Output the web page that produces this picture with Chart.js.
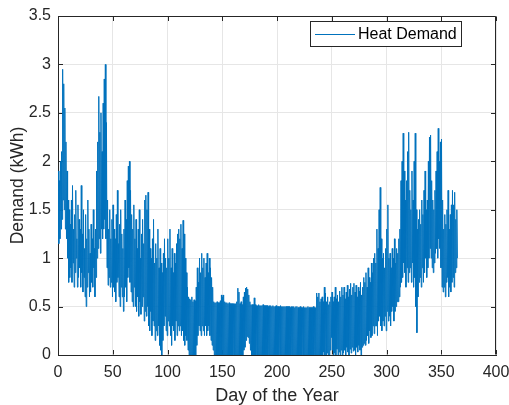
<!DOCTYPE html>
<html lang="en">
<head>
<meta charset="UTF-8">
<title>Heat Demand</title>
<style>
  html, body { margin: 0; padding: 0; background: #fff; }
</style>
</head>
<body>
<div style="width: 509px; height: 405px;">
  <canvas id="grafico" width="509" height="405"></canvas>
</div>
<script src="https://cdn.jsdelivr.net/npm/chart.js"></script>
<script>
// daily upper and lower envelope of the hourly heat demand (kWh), day 0..364
const dayPeak = [
  1.9, 1.8, 2.0, 2.1, 2.95, 2.8, 2.55, 2.2, 1.9, 1.6,
  1.5, 1.35, 1.6, 1.75, 1.3, 1.45, 1.7, 1.2, 1.55, 1.4,
  1.3, 1.75, 1.25, 1.5, 1.1, 1.45, 1.2, 1.6, 1.3, 1.05,
  1.35, 1.2, 1.5, 1.1, 1.3, 1.9, 2.2, 2.67, 2.3, 2.5,
  2.1, 2.6, 2.85, 3.0, 2.4, 1.6, 1.3, 1.5, 1.2, 1.4,
  1.55, 1.3, 1.2, 1.45, 1.7, 1.15, 1.35, 1.5, 1.25, 1.1,
  1.3, 1.6, 1.4, 1.8, 1.95, 2.0, 1.7, 1.45, 1.3, 1.55,
  1.2, 1.4, 1.1, 1.3, 1.5, 1.0, 1.25, 1.4, 1.15, 1.6,
  1.65, 1.5, 1.68, 1.3, 1.1, 1.0, 1.2, 1.4, 0.95, 1.15,
  1.0, 1.3, 0.9, 1.1, 0.95, 0.85, 1.05, 1.2, 1.0, 0.9,
  1.2, 1.0, 1.3, 0.9, 1.1, 0.85, 1.05, 0.95, 1.15, 1.25,
  1.3, 1.2, 1.35, 1.1, 1.39, 1.25, 1.0, 0.85, 0.7, 0.6,
  0.58, 0.57, 0.6, 0.55, 0.57, 0.56, 0.7, 0.9, 0.75, 1.0,
  0.85, 1.05, 0.9, 1.0, 0.8, 0.95, 1.05, 0.85, 1.0, 0.9,
  0.8, 0.7, 0.55, 0.54, 0.54, 0.55, 0.54, 0.54, 0.56, 0.62,
  0.6, 0.62, 0.55, 0.54, 0.54, 0.53, 0.54, 0.53, 0.53, 0.53,
  0.53, 0.53, 0.53, 0.55, 0.69, 0.65, 0.53, 0.55, 0.52, 0.6,
  0.65, 0.69, 0.7, 0.68, 0.62, 0.55, 0.52, 0.52, 0.52, 0.59,
  0.52, 0.51, 0.51, 0.52, 0.51, 0.51, 0.51, 0.52, 0.51, 0.51,
  0.51, 0.51, 0.5, 0.51, 0.51, 0.5, 0.51, 0.5, 0.5, 0.51,
  0.5, 0.5, 0.5, 0.51, 0.5, 0.5, 0.5, 0.5, 0.5, 0.5,
  0.5, 0.5, 0.49, 0.5, 0.5, 0.5, 0.49, 0.5, 0.5, 0.49,
  0.49, 0.5, 0.49, 0.49, 0.5, 0.49, 0.49, 0.49, 0.5, 0.49,
  0.49, 0.49, 0.49, 0.5, 0.49, 0.49, 0.64, 0.6, 0.64, 0.55,
  0.58, 0.6, 0.55, 0.7, 0.64, 0.55, 0.6, 0.52, 0.55, 0.6,
  0.65, 0.55, 0.6, 0.7, 0.58, 0.62, 0.55, 0.66, 0.6, 0.7,
  0.62, 0.7, 0.58, 0.65, 0.72, 0.6, 0.68, 0.74, 0.62, 0.7,
  0.74, 0.65, 0.72, 0.6, 0.7, 0.66, 0.75, 0.62, 0.7, 0.8,
  0.75, 0.85, 0.7, 0.9, 0.8, 0.75, 0.95, 0.85, 1.0, 1.05,
  0.95, 1.3, 1.1, 1.5, 1.73, 1.2, 1.0, 1.05, 0.9, 1.1,
  1.3, 1.55, 1.0, 1.05, 0.9, 1.1, 1.0, 1.2, 0.95, 1.1,
  1.05, 1.2, 1.3, 1.8, 2.0, 2.29, 1.9, 1.6, 1.8, 2.1,
  2.3, 1.7, 1.5, 1.9, 1.6, 2.0, 2.29, 1.5, 1.3, 1.4,
  1.5, 1.35, 1.6, 1.45, 1.7, 1.9, 1.5, 1.6, 2.0, 2.25,
  2.27, 1.8, 1.6, 1.5, 1.7, 1.9, 2.1, 2.34, 2.0, 2.2,
  2.23, 1.6, 1.3, 1.45, 1.35, 1.5, 1.7, 1.3, 1.45, 1.55,
  1.7, 1.55, 1.68, 1.4, 1.5
];
const dayBase = [
  1.15, 1.2, 1.3, 1.4, 1.6, 1.5, 1.3, 1.2, 1.0, 0.75,
  0.8, 0.9, 0.75, 0.95, 0.7, 0.85, 1.0, 0.7, 0.8, 0.9,
  0.7, 0.85, 0.65, 0.8, 0.6, 0.5, 0.7, 0.85, 0.6, 0.65,
  0.75, 0.7, 0.9, 0.6, 0.8, 1.0, 1.1, 1.2, 1.05, 1.3,
  1.2, 1.3, 1.4, 1.2, 0.9, 0.72, 0.8, 0.7, 0.75, 0.6,
  0.7, 0.65, 0.55, 0.75, 0.8, 0.6, 0.5, 0.7, 0.6, 0.45,
  0.6, 0.7, 0.55, 0.8, 0.9, 0.75, 0.65, 0.55, 0.5, 0.7,
  0.5, 0.45, 0.6, 0.4, 0.55, 0.42, 0.5, 0.6, 0.35, 0.45,
  0.4, 0.5, 0.3, 0.25, 0.45, 0.2, 0.35, 0.3, 0.15, 0.25,
  0.2, 0.3, 0.1, 0.05, 0.0, 0.15, 0.3, 0.4, 0.25, 0.2,
  0.35, 0.3, 0.2, 0.1, 0.3, 0.25, 0.15, 0.35, 0.2, 0.3,
  0.25, 0.3, 0.2, 0.25, 0.15, 0.1, 0.2, 0.15, 0.05, 0.0,
  0.0, 0.0, 0.0, 0.0, 0.0, 0.0, 0.1, 0.2, 0.3, 0.25,
  0.2, 0.3, 0.25, 0.2, 0.3, 0.2, 0.25, 0.3, 0.2, 0.15,
  0.1, 0.05, 0, 0, 0, 0, 0, 0, 0, 0,
  0, 0, 0, 0, 0, 0, 0, 0, 0, 0,
  0, 0, 0, 0, 0, 0, 0, 0, 0, 0.05,
  0.08, 0.15, 0.19, 0.18, 0.12, 0.05, 0, 0, 0, 0,
  0, 0, 0, 0, 0, 0, 0, 0, 0, 0,
  0, 0, 0, 0, 0, 0, 0, 0, 0, 0,
  0, 0, 0, 0, 0, 0, 0, 0, 0, 0,
  0, 0, 0, 0, 0, 0, 0, 0, 0, 0,
  0, 0, 0, 0, 0, 0, 0, 0, 0, 0,
  0, 0, 0, 0, 0, 0, 0, 0, 0, 0,
  0, 0, 0.03, 0, 0, 0.02, 0, 0, 0.05, 0.18,
  0.05, 0, 0.02, 0, 0.06, 0, 0.03, 0, 0.05, 0,
  0.02, 0.05, 0, 0.08, 0.03, 0, 0.06, 0.02, 0.08, 0.04,
  0.05, 0, 0.08, 0.03, 0.1, 0.05, 0, 0.08, 0.1, 0.12,
  0.1, 0.15, 0.2, 0.12, 0.25, 0.18, 0.2, 0.3, 0.22, 0.3,
  0.3, 0.2, 0.35, 0.4, 0.3, 0.25, 0.35, 0.3, 0.4, 0.25,
  0.45, 0.35, 0.4, 0.3, 0.45, 0.5, 0.35, 0.45, 0.5, 0.55,
  0.55, 0.6, 0.7, 0.75, 0.8, 0.95, 0.85, 0.7, 0.9, 0.75,
  0.85, 0.9, 0.75, 0.95, 0.7, 0.8, 0.5, 0.23, 0.6, 0.75,
  0.8, 0.7, 0.9, 0.75, 0.85, 1.0, 0.8, 0.9, 1.0, 1.1,
  1.0, 0.9, 0.85, 0.95, 1.05, 1.1, 1.0, 1.2, 1.1, 0.9,
  0.7, 0.65, 0.7, 0.6, 0.75, 0.8, 0.6, 0.7, 0.65, 0.75,
  0.8, 0.7, 0.85, 0.9, 1.0
];
const xTicks = [0, 50, 100, 150, 200, 250, 300, 350, 400];
const yTicks = [0, 0.5, 1, 1.5, 2, 2.5, 3, 3.5];
const seriesName = 'Heat Demand';

// one high and one low point per day
let pontos = [];
for (let d = 0; d < dayPeak.length; d++) {
  pontos.push({x: d + 0.25, y: dayPeak[d]});
  pontos.push({x: d + 0.75, y: dayBase[d]});
}

const corLinha = '#0072BD';
const corEixo = '#262626';
const fonte = 'Liberation Sans, Arial, Helvetica, sans-serif';

// box on + inward ticks + legend, matlab style
const moldura = {
  id: 'moldura',
  beforeDatasetsDraw(chart) {
    const {ctx, chartArea: a, scales} = chart;
    const L = Math.round(a.left) + 0.5, R = Math.round(a.right) - 0.5;
    const T = Math.round(a.top) + 0.5, B = Math.round(a.bottom) - 0.5;
    ctx.save();
    ctx.strokeStyle = corEixo;
    ctx.lineWidth = 1;
    ctx.beginPath();
    ctx.moveTo(L, T); ctx.lineTo(R, T); ctx.lineTo(R, B);
    xTicks.forEach(v => {
      const px = Math.round(scales.x.getPixelForValue(v)) + 0.5;
      ctx.moveTo(px, B); ctx.lineTo(px, B - 4.5);
      ctx.moveTo(px, T); ctx.lineTo(px, T + 4.5);
    });
    yTicks.forEach(v => {
      const py = Math.round(scales.y.getPixelForValue(v)) + 0.5;
      ctx.moveTo(L, py); ctx.lineTo(L + 4.5, py);
      ctx.moveTo(R, py); ctx.lineTo(R - 4.5, py);
    });
    ctx.stroke();
    ctx.restore();
  },
  afterDraw(chart) {
    const ctx = chart.ctx;
    ctx.save();
    ctx.fillStyle = '#fff';
    ctx.fillRect(310.5, 21.5, 151, 25);
    ctx.strokeStyle = corEixo;
    ctx.lineWidth = 1;
    ctx.strokeRect(310.5, 21.5, 151, 25);
    ctx.strokeStyle = corLinha;
    ctx.beginPath();
    ctx.moveTo(315, 34.5); ctx.lineTo(355, 34.5);
    ctx.stroke();
    ctx.fillStyle = '#000';
    ctx.font = '16px ' + fonte;
    ctx.textBaseline = 'middle';
    ctx.fillText(seriesName, 358, 35);
    ctx.restore();
  }
};

const ctx = document.getElementById('grafico');

let grafico = new Chart(ctx, {
  type: 'line',
  data: {
    datasets: [{
      label: seriesName,
      data: pontos,
      borderColor: corLinha,
      borderWidth: 1,
      pointRadius: 0,
      tension: 0,
      fill: false
    }]
  },
  options: {
    responsive: false,
    animation: false,
    layout: { padding: { left: 0, right: 13, top: 16, bottom: 0 } },
    plugins: {
      legend: { display: false },
      tooltip: { enabled: false }
    },
    scales: {
      x: {
        type: 'linear',
        min: 0,
        max: 400,
        afterBuildTicks: s => { s.ticks = xTicks.map(v => ({value: v})); },
        afterFit: s => { s.height = 50; s.paddingLeft = 0; s.paddingRight = 0; },
        grid: { color: '#e6e6e6', drawTicks: false },
        border: { color: corEixo, width: 1 },
        ticks: { color: corEixo, padding: 8, maxRotation: 0, font: { family: fonte, size: 16 },
                 callback: v => String(v) },
        title: {
          display: true,
          text: 'Day of the Year',
          color: corEixo,
          padding: 0,
          font: { family: fonte, size: 18, lineHeight: 1 }
        }
      },
      y: {
        min: 0,
        max: 3.5,
        afterBuildTicks: s => { s.ticks = yTicks.map(v => ({value: v})); },
        afterFit: s => { s.width = 58; s.paddingTop = 0; s.paddingBottom = 0; },
        grid: { color: '#e6e6e6', drawTicks: false },
        border: { color: corEixo, width: 1 },
        ticks: { color: corEixo, padding: 7, font: { family: fonte, size: 16 },
                 callback: v => String(v) },
        title: {
          display: true,
          text: 'Demand (kWh)',
          color: corEixo,
          padding: { top: 9, bottom: 0 },
          font: { family: fonte, size: 17.5, lineHeight: 1 }
        }
      }
    }
  },
  plugins: [moldura]
});
</script>
</body>
</html>
